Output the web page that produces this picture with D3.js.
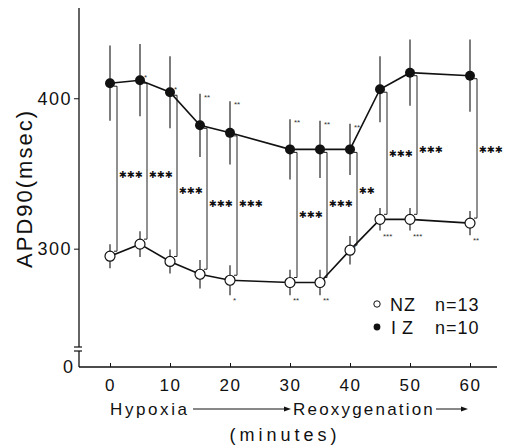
<!DOCTYPE html>
<html lang="en">
<head>
  <meta charset="UTF-8">
  <title>APD90 NZ vs IZ</title>
  <script src="https://d3js.org/d3.v7.min.js"></script>
  <style>
    body { margin: 0; background: #fff; }
    svg { font-family: "Liberation Sans", Arial, sans-serif; }
    .axis text { font-family: "Liberation Sans", Arial, sans-serif; fill: #111; }
    .axis line { stroke: #111; }
  </style>
</head>
<body>
  <div id="chart"></div>
  <script>
    // Time points (minutes) and group means / SE (msec)
    const times = [0, 5, 10, 15, 20, 30, 35, 40, 45, 50, 60];
    const nzMean = [295, 303, 291.5, 283, 279, 277.5, 277.5, 299, 319.5, 319.5, 317];
    const nzErr  = [8, 8.5, 8, 9.5, 10, 8.5, 8.5, 9.5, 7.5, 7.5, 8];
    const izMean = [410, 412, 404, 382, 377, 366, 366, 366, 406, 417, 415];
    const izErr  = [25, 24, 24, 21, 21, 20, 19, 17, 22, 22, 24];

    // NZ vs IZ significance and where the label sits (msec)
    const sigLabel = ["***", "***", "***", "***", "***", "***", "***", "**", "***", "***", "***"];
    const sigAt    = [349, 349, 339, 330, 330, 323, 330, 339, 363, 366, 366];

    // significance vs control, per group
    const izMark   = ["", "*", "*", "**", "**", "**", "**", "**", "", "", ""];
    const izMarkAt = ["", "dot", "dot", "top", "top", "top", "top", "top", "", "", ""];
    const nzMark   = ["", "", "", "", "*", "**", "**", "*", "***", "***", "**"];
    const nzMarkAt = ["", "", "", "", "bottom", "bottom", "bottom", "dot", "bottom", "bottom", "bottom"];

    const xTicks = [0, 10, 20, 30, 40, 50, 60];
    const yTicks = [300, 400];

    const width = 510, height = 447;

    const x = d3.scaleLinear().domain([0, 60]).range([110, 470]);
    const y = d3.scaleLinear().domain([222, 460]).range([366, 8]);

    const svg = d3.select("#chart").append("svg")
      .attr("width", width).attr("height", height);

    const ink = "#111";
    const axisY = y(222) + 1;
    const axisLeftX = 79;

    // y axis with break near zero
    svg.append("line").attr("x1", axisLeftX).attr("x2", axisLeftX)
      .attr("y1", y(460)).attr("y2", axisY - 20).attr("stroke", ink).attr("stroke-width", 1.3);
    svg.append("line").attr("x1", axisLeftX - 5).attr("x2", axisLeftX + 3)
      .attr("y1", axisY - 20).attr("y2", axisY - 20).attr("stroke", ink).attr("stroke-width", 1.2);
    svg.append("line").attr("x1", axisLeftX - 5).attr("x2", axisLeftX + 3)
      .attr("y1", axisY - 16).attr("y2", axisY - 16).attr("stroke", ink).attr("stroke-width", 1.2);
    svg.append("line").attr("x1", axisLeftX).attr("x2", axisLeftX)
      .attr("y1", axisY - 16).attr("y2", axisY).attr("stroke", ink).attr("stroke-width", 1.3);

    // x axis line
    svg.append("line").attr("x1", axisLeftX).attr("x2", 497)
      .attr("y1", axisY).attr("y2", axisY).attr("stroke", ink).attr("stroke-width", 1.3);

    const yAxis = svg.append("g").attr("class", "axis")
      .attr("transform", `translate(${axisLeftX},0)`)
      .call(d3.axisLeft(y).tickValues(yTicks).tickSizeInner(5).tickSizeOuter(0).tickPadding(2));
    yAxis.select(".domain").remove();
    yAxis.selectAll("text").style("font-size", "18px").style("letter-spacing", "1.5px");

    svg.append("text").attr("x", 68).attr("y", axisY + 6)
      .attr("text-anchor", "middle").style("font-size", "18px").attr("fill", ink).text("0");

    const xAxis = svg.append("g").attr("class", "axis")
      .attr("transform", `translate(0,${axisY})`)
      .call(d3.axisBottom(x).tickValues(xTicks).tickSizeInner(-4).tickSizeOuter(0).tickPadding(12));
    xAxis.select(".domain").remove();
    xAxis.selectAll("text").style("font-size", "17px").style("letter-spacing", "1.5px");

    // axis titles
    svg.append("text")
      .attr("transform", `translate(32,${y(340)}) rotate(-90)`)
      .attr("text-anchor", "middle")
      .style("font-size", "22px").style("letter-spacing", "2px")
      .attr("fill", ink).text("APD90(msec)");

    const phaseY = 415;
    svg.append("text").attr("x", 110).attr("y", phaseY)
      .style("font-size", "17px").style("letter-spacing", "2.6px").attr("fill", ink).text("Hypoxia");
    svg.append("text").attr("x", 293).attr("y", phaseY)
      .style("font-size", "17px").style("letter-spacing", "2.2px").attr("fill", ink).text("Reoxygenation");
    svg.append("text").attr("x", 285).attr("y", 441)
      .attr("text-anchor", "middle")
      .style("font-size", "18px").style("letter-spacing", "4px").attr("fill", ink).text("(minutes)");

    function arrow(x1, x2, yy) {
      svg.append("line").attr("x1", x1).attr("x2", x2 - 5).attr("y1", yy).attr("y2", yy)
        .attr("stroke", ink).attr("stroke-width", 1);
      svg.append("path")
        .attr("d", `M${x2},${yy} L${x2 - 7},${yy - 2.5} L${x2 - 7},${yy + 2.5} Z`)
        .attr("fill", ink);
    }
    arrow(193, 291, phaseY - 6);
    arrow(436, 468, phaseY - 6);

    // brackets between the groups
    const brk = svg.append("g");
    times.forEach((t, i) => {
      const bx = x(t) + 7;
      const top = y(izMean[i]) + 3;
      const bot = y(nzMean[i]) - 5;
      brk.append("path")
        .attr("d", `M${bx - 3},${top} H${bx} V${bot} H${bx - 3}`)
        .attr("fill", "none").attr("stroke", "#222").attr("stroke-width", 1);
      brk.append("text")
        .attr("x", bx + 2).attr("y", y(sigAt[i]) + 3.5)
        .style("font-family", "DejaVu Sans").style("font-size", "9.5px")
        .attr("fill", ink).text(sigLabel[i].replace(/\*/g, "\u2731"));
    });

    // error bars
    const eb = svg.append("g").attr("stroke", ink).attr("stroke-width", 1.1);
    times.forEach((t, i) => {
      eb.append("line").attr("x1", x(t)).attr("x2", x(t))
        .attr("y1", y(izMean[i] + izErr[i])).attr("y2", y(izMean[i] - izErr[i]));
      eb.append("line").attr("x1", x(t)).attr("x2", x(t))
        .attr("y1", y(nzMean[i] + nzErr[i])).attr("y2", y(nzMean[i] - nzErr[i]));
    });

    const line = d3.line().x((d, i) => x(times[i])).y(d => y(d));
    svg.append("path").datum(izMean).attr("d", line)
      .attr("fill", "none").attr("stroke", ink).attr("stroke-width", 1.6);
    svg.append("path").datum(nzMean).attr("d", line)
      .attr("fill", "none").attr("stroke", ink).attr("stroke-width", 1.6);

    svg.selectAll(".iz").data(izMean).enter().append("circle")
      .attr("cx", (d, i) => x(times[i])).attr("cy", d => y(d)).attr("r", 5)
      .attr("fill", ink);
    svg.selectAll(".nz").data(nzMean).enter().append("circle")
      .attr("cx", (d, i) => x(times[i])).attr("cy", d => y(d)).attr("r", 5)
      .attr("fill", "#fff").attr("stroke", ink).attr("stroke-width", 1.2);

    // small within-group marks
    const mk = svg.append("g").style("font-size", "8px").attr("fill", "#333");
    times.forEach((t, i) => {
      if (izMark[i]) {
        const yy = izMarkAt[i] === "dot" ? y(izMean[i]) : y(izMean[i] + izErr[i]) + 6;
        mk.append("text").attr("x", x(t) + 4).attr("y", yy).text(izMark[i]);
      }
      if (nzMark[i]) {
        const yy = nzMarkAt[i] === "dot" ? y(nzMean[i]) : y(nzMean[i] - nzErr[i]) + 8;
        mk.append("text").attr("x", x(t) + 3).attr("y", yy).text(nzMark[i]);
      }
    });

    // legend
    const lg = svg.append("g");
    lg.append("circle").attr("cx", 377).attr("cy", 304).attr("r", 3.2)
      .attr("fill", "#fff").attr("stroke", ink).attr("stroke-width", 1);
    lg.append("text").attr("x", 390).attr("y", 310.5).style("font-size", "18px")
      .style("letter-spacing", "1px").attr("fill", ink).text("NZ");
    lg.append("text").attr("x", 435).attr("y", 310.5).style("font-size", "18px")
      .style("letter-spacing", "1px").attr("fill", ink).text("n=13");
    lg.append("circle").attr("cx", 377).attr("cy", 327).attr("r", 3.4).attr("fill", ink);
    lg.append("text").attr("x", 391).attr("y", 333.5).style("font-size", "18px")
      .style("letter-spacing", "6px").attr("fill", ink).text("IZ");
    lg.append("text").attr("x", 435).attr("y", 333.5).style("font-size", "18px")
      .style("letter-spacing", "1px").attr("fill", ink).text("n=10");
  </script>
</body>
</html>
